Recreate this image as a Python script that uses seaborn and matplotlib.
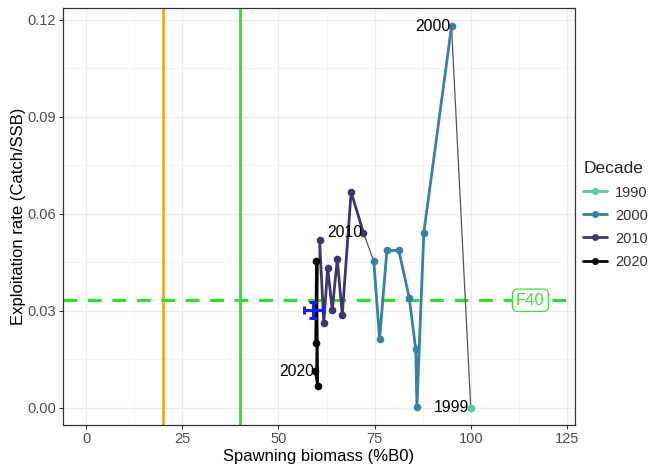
import numpy as np
import pandas as pd
import matplotlib
matplotlib.use("Agg")
import matplotlib.pyplot as plt
from matplotlib.lines import Line2D
import seaborn as sns

# ---- data ----
years = [1999,
         2000, 2001, 2002, 2003, 2004, 2005, 2006, 2007, 2009,
         2010, 2011, 2012, 2013, 2014, 2015, 2016, 2017,
         2020, 2021, 2022, 2023]
decades = ["1990",
           "2000", "2000", "2000", "2000", "2000", "2000", "2000", "2000", "2000",
           "2010", "2010", "2010", "2010", "2010", "2010", "2010", "2010",
           "2020", "2020", "2020", "2020"]
biomass = [100.0,
           95.0, 87.8, 86.0, 85.7, 84.0, 81.3, 78.2, 76.3, 74.8,
           72.1, 68.9, 66.6, 65.3, 64.0, 62.8, 61.8, 60.7,
           59.6, 60.2, 59.9, 59.7]
exploit = [0.0000,
           0.1180, 0.0542, 0.0004, 0.0181, 0.0341, 0.0487, 0.0487, 0.0213, 0.0453,
           0.0542, 0.0668, 0.0288, 0.0460, 0.0303, 0.0434, 0.0262, 0.0520,
           0.0114, 0.0068, 0.0453, 0.0200]
label_years = [1999, 2000, 2010, 2020]

decade_levels = ["1990", "2000", "2010", "2020"]
decade_colors = ["#5CC6A6", "#3582A6", "#40366E", "#0B0405"]

# current status with uncertainty
cur_x, cur_y = 59.1, 0.0303
cur_xerr, cur_yerr = 2.5, 0.0026

limit_x = 20      # limit reference
target_x = 40     # target reference
f40_y = 0.0333    # F40 rate
f40_label_x = 115.5

df = pd.DataFrame({"Year": years, "Decade": decades,
                   "SB": biomass, "ER": exploit})

# ---- figure ----
sns.set_theme(style="whitegrid")
plt.rcParams["font.family"] = ["Liberation Sans", "DejaVu Sans"]

fig = plt.figure(figsize=(6.51, 4.66), dpi=100)
ax = fig.add_axes([63 / 651, 1 - 425 / 466, (575 - 63) / 651, (425 - 8) / 466])
ax.set_facecolor("white")

ax.set_xlim(-6.0, 127.1)
ax.set_ylim(-0.0053, 0.1237)
ax.set_xticks([0, 25, 50, 75, 100, 125])
ax.set_yticks([0.0, 0.03, 0.06, 0.09, 0.12])
ax.set_yticklabels(["0.00", "0.03", "0.06", "0.09", "0.12"])
ax.set_xticks([12.5, 37.5, 62.5, 87.5, 112.5], minor=True)
ax.set_yticks([0.015, 0.045, 0.075, 0.105], minor=True)
ax.grid(True, which="major", color="#EBEBEB", lw=1.0)
ax.grid(True, which="minor", color="#F2F2F2", lw=0.6)
ax.set_axisbelow(True)
for s in ax.spines.values():
    s.set_color("#333333")
    s.set_linewidth(0.9)
ax.tick_params(axis="both", which="major", length=3, width=0.8, color="#333333",
               labelsize=10.5, labelcolor="#4D4D4D", pad=2, left=True, bottom=True)
ax.tick_params(axis="both", which="minor", length=0)

# reference lines
ax.axvline(limit_x, color="#F5A623", lw=2.0, zorder=2)
ax.axvline(target_x, color="#2EE02E", lw=2.0, zorder=2)
ax.axhline(f40_y, color="#2EE02E", lw=2.2, ls=(0, (4.5, 3.5)), zorder=2)
ax.text(f40_label_x, f40_y, "F40", color="#44DD44", fontsize=12,
        ha="center", va="center", zorder=6,
        bbox=dict(boxstyle="round,pad=0.22,rounding_size=0.3", fc="white",
                  ec="#44DD44", lw=0.9))

# full trajectory (thin grey)
sns.lineplot(data=df, x="SB", y="ER", sort=False, estimator=None,
             color="#555555", lw=0.9, ax=ax, zorder=3, legend=False)
# coloured paths per decade
sns.lineplot(data=df, x="SB", y="ER", hue="Decade", hue_order=decade_levels,
             palette=decade_colors, sort=False, estimator=None, lw=2.0,
             marker="o", markersize=5.5, markeredgewidth=0, ax=ax, zorder=4,
             legend=False)

# year labels
for yr in label_years:
    row = df[df["Year"] == yr].iloc[0]
    ax.annotate(str(yr), (row["SB"], row["ER"]), xytext=(-1.0, 0),
                textcoords="offset points", ha="right", va="center",
                fontsize=11.3, color="black", zorder=6)

# current status error cross
ax.errorbar([cur_x], [cur_y], xerr=[cur_xerr], yerr=[cur_yerr], fmt="none",
            ecolor="#1F1FE0", elinewidth=2.2, capsize=3, capthick=2.2, zorder=7)

ax.set_xlabel("Spawning biomass (%B0)", fontsize=12, color="black", labelpad=2)
ax.set_ylabel("Exploitation rate (Catch/SSB)", fontsize=12, color="black", labelpad=1)

# legend
handles = [Line2D([0], [0], color=c, lw=2.0, marker="o", markersize=5, markeredgewidth=0)
           for c in decade_colors]
leg = fig.legend(handles, decade_levels, title="Decade", loc="upper left",
                 bbox_to_anchor=(582 / 651, 1 - 160 / 466), frameon=False,
                 fontsize=10.5, title_fontsize=12.5, handlelength=1.6,
                 handletextpad=0.55, labelspacing=0.62, borderaxespad=0,
                 borderpad=0.1)
leg._legend_box.align = "left"
for t in leg.get_texts():
    t.set_color("#333333")

fig.savefig("out.png", dpi=100, facecolor="white")
